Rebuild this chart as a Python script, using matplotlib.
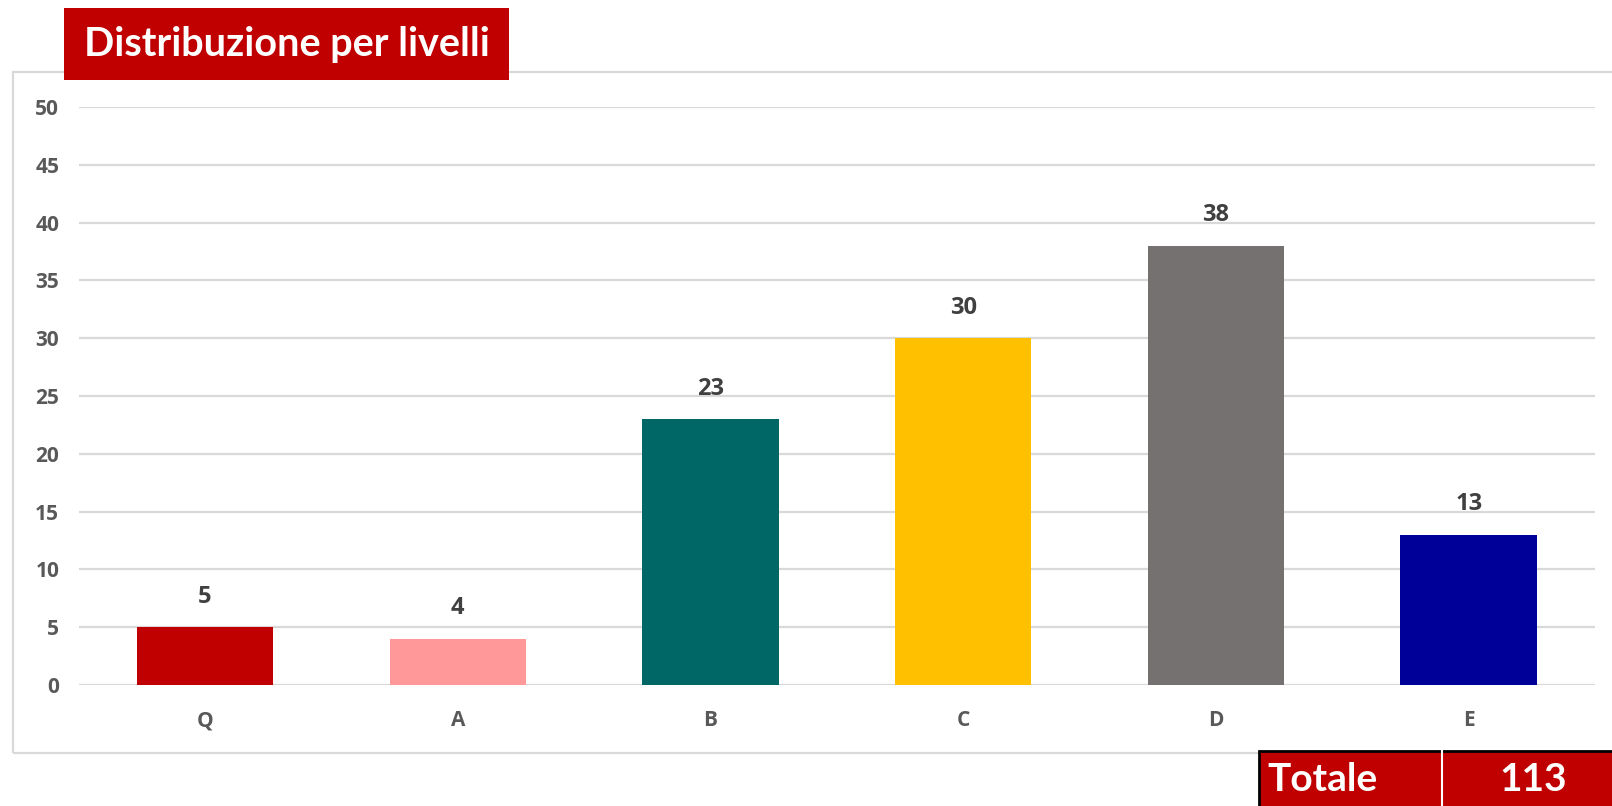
import matplotlib.pyplot as plt
from matplotlib.patches import Rectangle

# data
categories = ['Q', 'A', 'B', 'C', 'D', 'E']
counts = [5, 4, 23, 30, 38, 13]
title = 'Distribuzione per livelli'

bar_colors = ['#C00000', '#FF9999', '#006666', '#FFC000', '#767171', '#000099']
red = '#C00000'
grid_grey = '#D9D9D9'
text_grey = '#595959'

plt.rcParams['font.family'] = ['Open Sans', 'DejaVu Sans']

fig = plt.figure(figsize=(16.12, 8.06), dpi=100)

# outer light frame of the chart (runs off the right edge)
fig.patches.append(Rectangle((0.0081, 0.0658), 1.05, 0.845, transform=fig.transFigure,
                             fill=False, edgecolor=grid_grey, linewidth=1.6, zorder=0))

ax = fig.add_axes([0.0488, 0.1501, 0.9407, 0.7171])
x = range(len(categories))
bars = ax.bar(x, counts, width=0.54, color=bar_colors, zorder=3)

ax.set_xlim(-0.5, len(categories) - 0.5)
ax.set_ylim(0, 50)
ax.set_yticks(range(0, 51, 5))
ax.set_xticks(list(x))
ax.set_xticklabels(categories)
ax.yaxis.grid(True, color=grid_grey, linewidth=1.6, zorder=0)
ax.set_axisbelow(True)
for s in ax.spines.values():
    s.set_visible(False)
ax.tick_params(axis='both', length=0, labelcolor=text_grey, labelsize=15)
ax.tick_params(axis='y', pad=14)
ax.tick_params(axis='x', pad=18)
for lbl in ax.get_xticklabels() + ax.get_yticklabels():
    lbl.set_fontweight('bold')

# value labels over the bars
for b, v in zip(bars, counts):
    ax.annotate(str(v), (b.get_x() + b.get_width() / 2, v), xytext=(0, 22),
                textcoords='offset points', ha='center', va='center',
                fontsize=17, fontweight='bold', color='#404040')

# red title box
fig.patches.append(Rectangle((0.0397, 0.9007), 0.2761, 0.0893, transform=fig.transFigure,
                             facecolor=red, edgecolor='none', zorder=5))
fig.text(0.0521, 0.9454, title, color='white', fontsize=28.5, fontweight='bold',
         family=['Lato', 'DejaVu Sans'], ha='left', va='center', zorder=6)

# "Totale" box in the bottom right corner
fig.patches.append(Rectangle((0.781, -0.02), 0.25, 0.0882, transform=fig.transFigure,
                             facecolor=red, edgecolor='black', linewidth=2, zorder=5))
fig.lines.append(plt.Line2D([0.8945, 0.8945], [0, 0.0682], transform=fig.transFigure,
                            color='white', linewidth=1.5, zorder=6))
fig.text(0.786, 0.033, 'Totale', color='white', fontsize=28, fontweight='bold',
         family=['Lato', 'DejaVu Sans'], ha='left', va='center', zorder=7)
fig.text(0.951, 0.033, str(sum(counts)), color='white', fontsize=28, fontweight='bold',
         family=['Lato', 'DejaVu Sans'], ha='center', va='center', zorder=7)

fig.savefig('out.png', dpi=100)
